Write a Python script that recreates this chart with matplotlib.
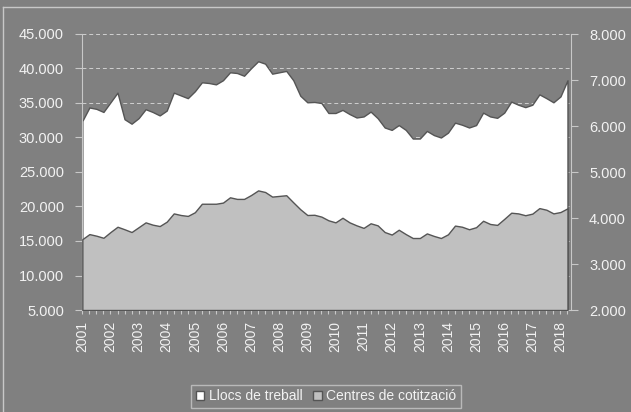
import matplotlib
matplotlib.use("Agg")
import matplotlib.pyplot as plt
from matplotlib.patches import Patch
from matplotlib.lines import Line2D

plt.rcParams['font.family'] = ['Liberation Sans', 'DejaVu Sans']

# Quarterly data, 2001 Q1 - 2018 Q2
years = list(range(2001, 2019))
llocs = [32400, 34350, 34150, 33700, 35100, 36500, 32650, 32000, 32800, 34100,
         33700, 33200, 33900, 36500, 36100, 35700, 36700, 38000, 37900, 37700,
         38300, 39450, 39350, 38950, 40050, 41050, 40700, 39250, 39450, 39650,
         38300, 36050, 35100, 35150, 35000, 33550, 33550, 34000, 33400, 32900,
         33050, 33750, 32800, 31450, 31100, 31800, 31100, 29850, 29850, 30950,
         30350, 30000, 30700, 32150, 31850, 31450, 31800, 33600, 33050, 32850,
         33600, 35200, 34750, 34400, 34750, 36250, 35700, 35100, 35950, 38300]
centres = [3540, 3650, 3615, 3570, 3695, 3810, 3755, 3695, 3800, 3905,
           3855, 3825, 3920, 4100, 4065, 4045, 4125, 4310, 4310, 4310,
           4335, 4450, 4415, 4415, 4500, 4600, 4565, 4465, 4480, 4495,
           4340, 4190, 4065, 4070, 4030, 3950, 3905, 4005, 3905, 3840,
           3785, 3885, 3840, 3695, 3640, 3745, 3650, 3565, 3565, 3665,
           3610, 3565, 3645, 3835, 3810, 3755, 3800, 3940, 3870, 3850,
           3980, 4115, 4100, 4060, 4095, 4215, 4180, 4100, 4130, 4210]

bg = '#808080'
txt = '#f2f2f2'
axc = '#c8c8c8'
edge = '#555555'

x = list(range(len(llocs)))

fig = plt.figure(figsize=(6.31, 4.12), dpi=100, facecolor=bg)
ax = fig.add_axes([82 / 631, 1 - 310 / 412, (571 - 82) / 631, (310 - 34) / 412])
ax.set_facecolor(bg)

# outer frame
fig.add_artist(Line2D([3 / 631, 3 / 631], [0, 1 - 7 / 412], color=axc, lw=1, transform=fig.transFigure))
fig.add_artist(Line2D([3 / 631, 1], [1 - 7 / 412, 1 - 7 / 412], color=axc, lw=1, transform=fig.transFigure))

ax.fill_between(x, 5000, llocs, facecolor='white', edgecolor=edge, lw=1, zorder=2)
ax.set_ylim(5000, 45000)
ax.set_yticks(range(5000, 45001, 5000))
ax.set_yticklabels([f"{v:,}".replace(",", ".") for v in range(5000, 45001, 5000)])
ax.grid(axis='y', color='#d0d0d0', ls=(0, (4, 3)), lw=0.7, zorder=0)
ax.set_axisbelow(True)

ax2 = ax.twinx()
ax2.fill_between(x, 2000, centres, facecolor='#c0c0c0', edgecolor=edge, lw=1, zorder=2)
ax2.set_ylim(2000, 8000)
ax2.set_yticks(range(2000, 8001, 1000))
ax2.set_yticklabels([f"{v:,}".replace(",", ".") for v in range(2000, 8001, 1000)])

ax.set_xlim(-0.05, 69.5)
ax.set_xticks(x)
ax.set_xticklabels([str(years[i // 4]) if i % 4 == 0 else '' for i in x], rotation=90)

for a in (ax, ax2):
    for s in a.spines.values():
        s.set_visible(False)
ax.spines['left'].set_visible(True)
ax.spines['left'].set_color(axc)
ax.spines['bottom'].set_visible(True)
ax.spines['bottom'].set_color(axc)
ax2.spines['right'].set_visible(True)
ax2.spines['right'].set_color(axc)

ax.tick_params(axis='y', colors=axc, labelcolor=txt, labelsize=10.5, length=5, pad=8)
ax.tick_params(axis='x', colors=axc, labelcolor=txt, labelsize=10, length=3, pad=5)
ax2.tick_params(axis='y', colors=axc, labelcolor=txt, labelsize=10.5, length=5, pad=8)

handles = [Patch(facecolor='white', edgecolor=edge, label='Llocs de treball'),
           Patch(facecolor='#c0c0c0', edgecolor=edge, label='Centres de cotització')]
leg = fig.legend(handles=handles, loc='center', bbox_to_anchor=(326 / 631, 1 - 396.5 / 412),
                 ncol=2, frameon=True, fontsize=10, handlelength=0.6, handleheight=0.6,
                 handletextpad=0.3, columnspacing=0.8, borderpad=0.35, fancybox=False)
leg.get_frame().set_facecolor(bg)
leg.get_frame().set_edgecolor(axc)
for t in leg.get_texts():
    t.set_color(txt)

fig.savefig('out.png', dpi=100, facecolor=bg)
